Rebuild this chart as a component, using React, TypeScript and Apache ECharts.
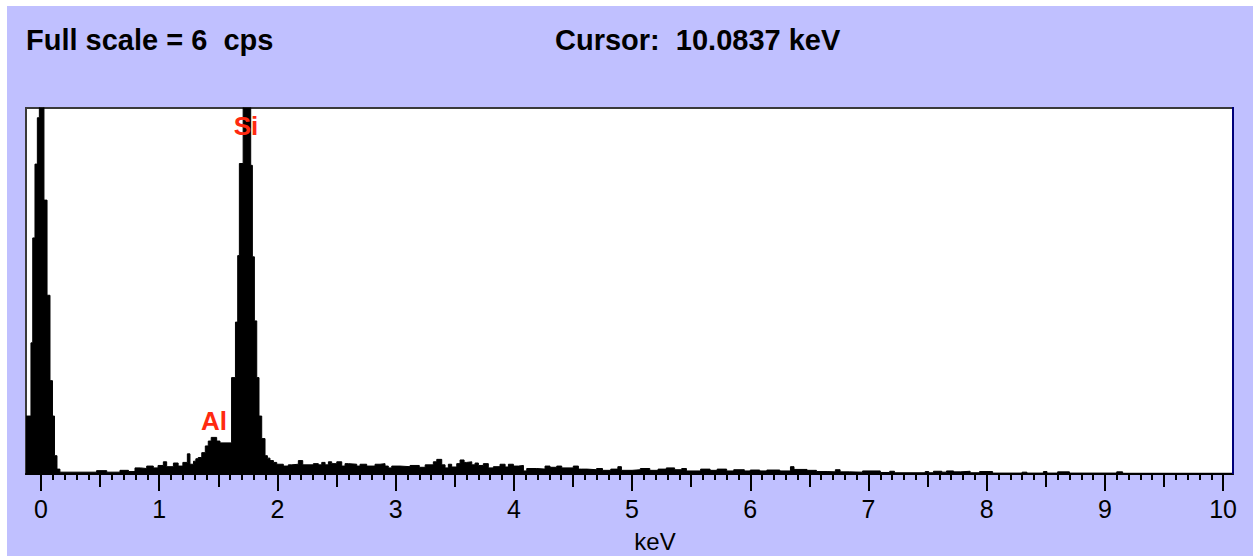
import React, { useEffect, useRef } from 'react';
import * as echarts from 'echarts';

// ---- axis extents (keV) and full scale (cps) ----
const X_MIN = -0.127;
const X_MAX = 10.0837;
const FULL_SCALE_CPS = 6;

// ---- spectrum, as [bin start keV, counts per second] ----
const zeroPeak = [
  [-0.127, 0.95], [-0.085, 2.15], [-0.07, 3.87], [-0.051, 5.08], [-0.031, 5.84],
  [-0.014, 9.5], [0.025, 4.49], [0.051, 2.93], [0.076, 1.53], [0.097, 0.95],
  [0.114, 0.3], [0.135, 0.08],
];
const lowBackground = [
  [0.16, 0.03], [0.47, 0.055], [0.556, 0.03], [0.668, 0.06], [0.74, 0.04],
  [0.795, 0.1], [0.84, 0.09], [0.894, 0.13], [0.95, 0.1], [0.99, 0.14],
  [1.035, 0.2], [1.063, 0.12], [1.12, 0.18], [1.16, 0.13],
];
const alPeak = [
  [1.2, 0.19], [1.238, 0.33], [1.26, 0.16], [1.29, 0.21], [1.31, 0.25],
  [1.33, 0.27], [1.36, 0.35], [1.39, 0.46], [1.415, 0.54], [1.44, 0.6],
  [1.486, 0.54], [1.514, 0.51],
];
const siPeak = [
  [1.612, 1.58], [1.645, 2.49], [1.664, 3.58], [1.678, 5.09], [1.71, 10.5],
  [1.774, 5.06], [1.788, 3.56], [1.805, 2.51], [1.825, 1.58], [1.844, 0.95],
  [1.867, 0.58],
];
const midBackground = [
  [1.895, 0.3], [1.915, 0.26], [1.937, 0.22], [1.966, 0.19], [1.994, 0.16],
  [2.05, 0.13], [2.092, 0.15], [2.121, 0.16], [2.177, 0.22], [2.214, 0.15],
  [2.304, 0.17], [2.346, 0.15], [2.375, 0.19], [2.403, 0.15], [2.431, 0.2],
  [2.459, 0.17], [2.502, 0.2], [2.544, 0.13], [2.572, 0.17], [2.6, 0.16],
  [2.671, 0.13], [2.699, 0.16], [2.755, 0.13], [2.826, 0.16], [2.868, 0.17],
  [2.91, 0.13], [2.938, 0.1], [2.967, 0.13], [3.037, 0.12], [3.122, 0.14],
  [3.2, 0.11], [3.25, 0.15], [3.319, 0.2], [3.348, 0.24], [3.39, 0.15],
  [3.418, 0.1], [3.446, 0.16], [3.474, 0.115], [3.517, 0.17], [3.545, 0.23],
  [3.579, 0.19], [3.601, 0.2], [3.644, 0.15], [3.672, 0.18], [3.7, 0.14],
  [3.742, 0.17], [3.784, 0.1], [3.827, 0.12], [3.883, 0.16], [3.926, 0.115],
  [3.954, 0.16], [3.996, 0.13], [4.038, 0.14], [4.081, 0.05], [4.109, 0.09],
  [4.194, 0.08], [4.264, 0.13], [4.306, 0.11], [4.363, 0.13], [4.405, 0.1],
  [4.503, 0.13], [4.546, 0.08], [4.574, 0.08],
];
const tailBackground = [
  [4.62, 0.07], [4.7, 0.09], [4.75, 0.06], [4.82, 0.08], [4.88, 0.12],
  [4.91, 0.06], [5.0, 0.07], [5.07, 0.09], [5.15, 0.06], [5.22, 0.08],
  [5.29, 0.1], [5.36, 0.07], [5.42, 0.09], [5.46, 0.05], [5.58, 0.08],
  [5.66, 0.06], [5.72, 0.08], [5.8, 0.05], [5.86, 0.07], [5.95, 0.05],
  [6.0, 0.065], [6.08, 0.05], [6.14, 0.065], [6.25, 0.05], [6.34, 0.12],
  [6.37, 0.075], [6.48, 0.06], [6.56, 0.04], [6.65, 0.035], [6.72, 0.07],
  [6.76, 0.035], [6.84, 0.03], [6.95, 0.05], [7.1, 0.025], [7.18, 0.045],
  [7.22, 0.02], [7.48, 0.04], [7.51, 0.02], [7.55, 0.045], [7.62, 0.03],
  [7.66, 0.05], [7.72, 0.035], [7.78, 0.045], [7.86, 0.02], [7.94, 0.04],
  [8.05, 0.015], [8.3, 0.03], [8.34, 0.015], [8.48, 0.04], [8.51, 0.015],
  [8.6, 0.035], [8.7, 0.015], [9.1, 0.035], [9.15, 0.012], [10.0837, 0.012],
];

// ---- axis ticks ----
const majorTicks = [0, 1, 2, 3, 4, 5, 6, 7, 8, 9, 10];
const halfTicks = [0.5, 1.5, 2.5, 3.5, 4.5, 5.5, 6.5, 7.5, 8.5, 9.5];
const minorTicks = Array.from({ length: 101 }, (_, i) => i / 10);

// ---- texts ----
const headerLeft = 'Full scale = 6  cps';
const headerRight = 'Cursor:  10.0837 keV';
const axisName = 'keV';
const peakNames = ['Si', 'Al'];

const FONT = '"Liberation Sans", Arial, sans-serif';

export default function App() {
  const ref = useRef<HTMLDivElement>(null);

  useEffect(() => {
    if (!ref.current) return;
    const chart = echarts.init(ref.current, null, { renderer: 'svg' });
    const spectrum = [
      ...zeroPeak, ...lowBackground, ...alPeak, ...siPeak, ...midBackground, ...tailBackground,
    ];

    const baseAxis = {
      type: 'value',
      min: X_MIN,
      max: X_MAX,
      position: 'bottom',
      gridIndex: 0,
      splitLine: { show: false },
    };

    chart.setOption({
      animation: false,
      grid: {
        left: 26,
        top: 108,
        right: 20,
        bottom: 82,
        show: true,
        backgroundColor: '#ffffff',
        borderColor: '#3a3a3a',
        borderWidth: 2,
        outerBoundsMode: 'none',
      },
      xAxis: [
        {
          ...baseAxis,
          axisLine: { show: true, lineStyle: { color: '#000', width: 2 } },
          axisTick: { show: true, customValues: majorTicks, length: 17, lineStyle: { color: '#000', width: 2 } },
          axisLabel: {
            show: true,
            customValues: majorTicks,
            formatter: (v: number) => String(Math.round(v)),
            fontSize: 25,
            fontFamily: FONT,
            color: '#000',
            margin: 22,
          },
        },
        {
          ...baseAxis,
          axisLine: { show: false },
          axisTick: { show: true, customValues: halfTicks, length: 13, lineStyle: { color: '#000', width: 2 } },
          axisLabel: { show: false },
        },
        {
          ...baseAxis,
          axisLine: { show: false },
          axisTick: { show: true, customValues: minorTicks, length: 6, lineStyle: { color: '#000', width: 2 } },
          axisLabel: { show: false },
        },
      ],
      yAxis: {
        type: 'value',
        min: 0,
        max: FULL_SCALE_CPS,
        show: false,
        splitLine: { show: false },
      },
      series: [
        {
          type: 'line',
          xAxisIndex: 0,
          yAxisIndex: 0,
          data: spectrum,
          step: 'end',
          showSymbol: false,
          symbol: 'none',
          clip: true,
          lineStyle: { color: '#000', width: 1 },
          areaStyle: { color: '#000', opacity: 1 },
          z: 2,
        },
      ],
      graphic: [
        {
          type: 'line',
          shape: { x1: 1233, y1: 107, x2: 1233, y2: 474 },
          style: { stroke: '#00007a', lineWidth: 2 },
          z: 10,
        },
        {
          type: 'text',
          x: 26,
          y: 40,
          style: { text: headerLeft, fontSize: 29, fontWeight: 'bold', fontFamily: FONT, fill: '#000', align: 'left', verticalAlign: 'middle' },
        },
        {
          type: 'text',
          x: 555,
          y: 40,
          style: { text: headerRight, fontSize: 29, fontWeight: 'bold', fontFamily: FONT, fill: '#000', align: 'left', verticalAlign: 'middle' },
        },
        {
          type: 'text',
          x: 655,
          y: 541,
          style: { text: axisName, fontSize: 24, fontFamily: FONT, fill: '#000', align: 'center', verticalAlign: 'middle' },
        },
        {
          type: 'text',
          x: 246,
          y: 126,
          z: 20,
          style: { text: peakNames[0], fontSize: 26, fontWeight: 'bold', fontFamily: FONT, fill: '#ff2a10', align: 'center', verticalAlign: 'middle' },
        },
        {
          type: 'text',
          x: 214,
          y: 421,
          z: 20,
          style: { text: peakNames[1], fontSize: 26, fontWeight: 'bold', fontFamily: FONT, fill: '#ff2a10', align: 'center', verticalAlign: 'middle' },
        },
      ],
    });

    return () => chart.dispose();
  }, []);

  return (
    <div style={{ position: 'fixed', left: 0, top: 0, width: 1253, height: 556, background: '#ffffff' }}>
      <div style={{ position: 'absolute', left: 7, top: 6, width: 1246, height: 550, background: '#c0c0ff' }} />
      <div ref={ref} style={{ position: 'absolute', left: 0, top: 0, width: 1253, height: 556 }} />
    </div>
  );
}
